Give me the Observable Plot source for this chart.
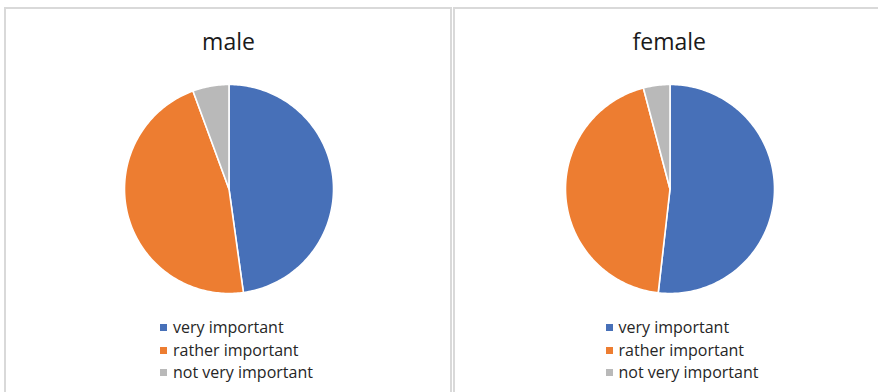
<!DOCTYPE html>
<html>
<head>
<meta charset="utf-8">
<script src="https://cdn.jsdelivr.net/npm/d3@7"></script>
<script src="https://cdn.jsdelivr.net/npm/@observablehq/plot@0.6"></script>
<style>
  html, body { margin: 0; padding: 0; background: #fff; width: 878px; height: 392px; overflow: hidden; }
  .panel { position: absolute; box-sizing: border-box; border: 2px solid #d9d9d9; background: #fff; }
  .title { position: absolute; font-family: "Open Sans", sans-serif; font-size: 23px; color: #1a1a1a; text-align: center; white-space: nowrap; }
  .pie { position: absolute; }
  .legend { position: absolute; font-family: "Open Sans", sans-serif; font-size: 16px; color: #262626; }
  .legend .row { position: absolute; white-space: nowrap; height: 20px; line-height: 20px; }
  .legend .sw { position: absolute; width: 7px; height: 7px; top: 7px; left: 0; }
  .legend .lab { position: absolute; left: 13px; top: 0; }
</style>
</head>
<body>
<div id="root"></div>
<script>
const groups = ["male", "female"];
const categories = ["very important", "rather important", "not very important"];
const maleValues = [47.8, 46.6, 5.6];
const femaleValues = [51.8, 44.1, 4.1];
const colors = ["#4770B8", "#ED7D31", "#B9B9B9"];

const seriesValues = {male: maleValues, female: femaleValues};

// layout (positions only, not data)
const panels = [
  {left: 4, top: 7, width: 448, height: 400, cx: 228.5, cy: 188.5, legendX: 160},
  {left: 453, top: 7, width: 440, height: 400, cx: 669.3, cy: 188.5, legendX: 605.5}
];
const R = 104.5;
const S = 2 * R + 2; // svg size

function slicePoints(group, values) {
  const total = d3.sum(values);
  const rows = [];
  let start = 0;
  values.forEach((v, i) => {
    const end = start + v / total * 2 * Math.PI;
    const cat = categories[i];
    rows.push({group, category: cat, x: 0, y: 0});
    const n = Math.max(2, Math.ceil((end - start) / (Math.PI / 180)));
    for (let k = 0; k <= n; k++) {
      const a = start + (end - start) * k / n;
      rows.push({group, category: cat, x: Math.sin(a), y: Math.cos(a)});
    }
    rows.push({group, category: cat, x: 0, y: 0});
    start = end;
  });
  return rows;
}

const root = document.getElementById("root");
groups.forEach((g, gi) => {
  const p = panels[gi];
  const panel = document.createElement("div");
  panel.className = "panel";
  Object.assign(panel.style, {left: p.left + "px", top: p.top + "px", width: p.width + "px", height: p.height + "px"});
  root.appendChild(panel);

  const title = document.createElement("div");
  title.className = "title";
  title.textContent = g;
  Object.assign(title.style, {left: (p.cx - 100) + "px", width: "200px", top: "25px"});
  root.appendChild(title);

  const data = slicePoints(g, seriesValues[g]);
  const chart = Plot.plot({
    width: S,
    height: S,
    margin: 1,
    x: {domain: [-1, 1], axis: null},
    y: {domain: [-1, 1], axis: null},
    color: {domain: categories, range: colors},
    marks: [
      Plot.line(data, {x: "x", y: "y", z: "category", fill: "category", stroke: "white", strokeWidth: 1.6, strokeLinejoin: "round", curve: "linear"})
    ]
  });
  chart.classList.add("pie");
  chart.style.left = (p.cx - S / 2) + "px";
  chart.style.top = (p.cy - S / 2) + "px";
  root.appendChild(chart);

  const legend = document.createElement("div");
  legend.className = "legend";
  legend.style.left = p.legendX + "px";
  legend.style.top = "317px";
  categories.forEach((c, i) => {
    const row = document.createElement("div");
    row.className = "row";
    row.style.top = (i * 22.5) + "px";
    const sw = document.createElement("div");
    sw.className = "sw";
    sw.style.background = colors[i];
    const lab = document.createElement("div");
    lab.className = "lab";
    lab.textContent = c;
    row.appendChild(sw);
    row.appendChild(lab);
    legend.appendChild(row);
  });
  root.appendChild(legend);
});
</script>
</body>
</html>
